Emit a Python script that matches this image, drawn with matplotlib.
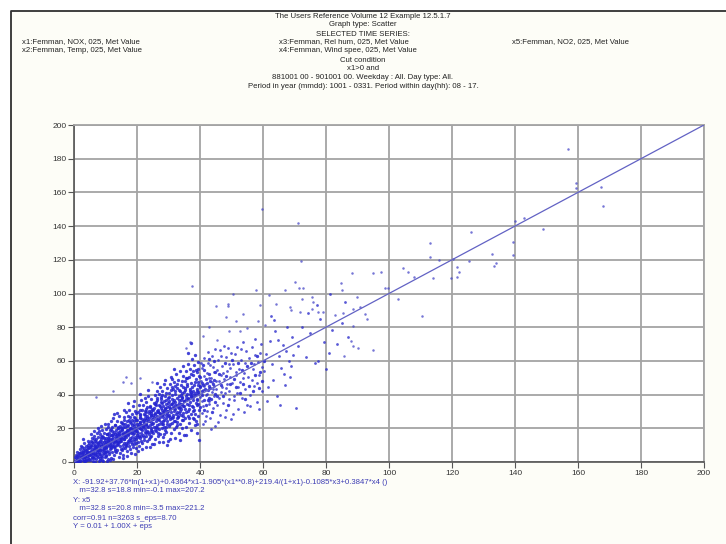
import numpy as np
import matplotlib
matplotlib.use('Agg')
from matplotlib import pyplot as plt
from matplotlib.lines import Line2D

plt.rcParams['font.family'] = ['Liberation Sans', 'DejaVu Sans']

# x = fitted NOX expression, y = measured NO2 (Femman, 025)
pts_0_10 = [(0.3,0.5),(0.5,2.1),(0.8,1.2),(1.1,3.4),(1.2,0.4),(1.4,2.6),(1.6,5.1),(1.7,1.5),(1.9,3.8),(2.0,0.8),
            (2.1,6.2),(2.3,2.9),(2.4,4.5),(2.6,1.1),(2.7,7.3),(2.8,3.3),(3.0,5.6),(3.1,2.0),(3.2,0.6),(3.3,8.1),
            (3.4,4.1),(3.5,6.8),(3.6,2.7),(3.7,1.4),(3.8,5.0),(3.9,9.2),(4.0,3.6),(4.1,7.5),(4.2,0.9),(4.3,4.8),
            (4.4,2.2),(4.5,6.1),(4.6,10.3),(4.7,3.9),(4.8,8.4),(4.9,1.7),(0.6,4.2),(1.0,6.0),(1.5,0.2),(2.2,9.6),
            (2.9,5.9),(3.3,11.4),(3.9,7.0),(4.4,12.2),(4.8,5.3),(0.9,0.1),(1.8,7.8),(2.5,3.1),(3.6,0.3),(4.1,5.4),
            (0.4,3.0),(1.3,4.4),(2.0,5.2),(2.6,8.9),(3.2,3.0),(4.5,9.1),(4.9,11.0),(3.0,13.5),
            (5.0,4.4),(5.1,8.7),(5.2,1.2),(5.3,12.5),(5.4,6.3),(5.5,10.1),(5.6,3.0),(5.7,14.0),(5.8,7.6),(5.9,0.8),
            (6.0,11.3),(6.1,5.1),(6.2,9.4),(6.3,2.4),(6.4,15.2),(6.5,7.0),(6.6,12.6),(6.7,4.2),(6.8,10.0),(6.9,1.6),
            (7.0,8.2),(7.1,13.8),(7.2,5.9),(7.3,17.1),(7.4,3.5),(7.5,11.1),(7.6,7.3),(7.7,14.9),(7.8,0.5),(7.9,9.6),
            (8.0,5.0),(8.1,12.3),(8.2,2.1),(8.3,16.4),(8.4,8.0),(8.5,10.7),(8.6,3.8),(8.7,13.6),(8.8,6.5),(8.9,19.0),
            (9.0,1.0),(9.1,9.9),(9.2,14.6),(9.3,4.6),(9.4,11.8),(9.5,7.4),(9.6,17.5),(9.7,2.9),(9.8,12.9),(9.9,6.1),
            (5.4,16.8),(6.2,18.3),(7.5,20.1),(8.6,21.4),(9.3,0.4),(6.8,0.2),(8.1,1.3),(9.7,22.8),(5.8,11.9),(7.1,9.0),
            (8.9,15.7),(9.4,8.6),(6.5,13.9),(7.9,18.6),(8.4,4.9)]

pts_10_20 = [(10.0,8.4),(10.1,14.2),(10.2,3.3),(10.3,19.5),(10.4,11.0),(10.5,6.7),(10.6,16.9),(10.7,1.8),(10.8,12.5),(10.9,22.3),
             (11.0,9.2),(11.1,15.6),(11.2,4.7),(11.3,18.8),(11.4,11.9),(11.5,7.5),(11.6,24.1),(11.7,13.4),(11.8,2.6),(11.9,16.2),
             (12.0,10.1),(12.1,20.7),(12.2,6.2),(12.3,14.8),(12.4,26.0),(12.5,12.0),(12.6,8.8),(12.7,17.6),(12.8,4.0),(12.9,22.0),
             (13.0,13.2),(13.1,9.7),(13.2,19.1),(13.3,15.5),(13.4,5.8),(13.5,24.4),(13.6,11.3),(13.7,17.0),(13.8,7.1),(13.9,20.3),
             (14.0,14.1),(14.1,10.5),(14.2,27.2),(14.3,16.4),(14.4,3.2),(14.5,21.6),(14.6,12.7),(14.7,18.2),(14.8,8.0),(14.9,23.5),
             (10.4,0.6),(11.3,1.0),(12.6,28.4),(13.8,29.1),(14.5,5.1),(10.8,20.6),(12.2,15.9),(13.4,12.2),(11.7,8.3),(14.1,19.9),
             (12.9,16.7),(10.2,11.8),(13.1,21.8),(14.7,14.3),(11.0,17.4),(12.4,1.9),
             (15.0,12.3),(15.1,18.7),(15.2,7.0),(15.3,23.2),(15.4,15.1),(15.5,9.8),(15.6,20.5),(15.7,4.4),(15.8,16.8),(15.9,26.7),
             (16.0,13.5),(16.1,21.0),(16.2,8.6),(16.3,17.9),(16.4,29.8),(16.5,14.6),(16.6,11.2),(16.7,24.3),(16.8,19.2),(16.9,6.3),
             (17.0,15.9),(17.1,27.5),(17.2,12.4),(17.3,21.8),(17.4,9.3),(17.5,18.0),(17.6,31.0),(17.7,14.2),(17.8,23.9),(17.9,7.7),
             (18.0,17.2),(18.1,20.4),(18.2,11.6),(18.3,28.6),(18.4,15.0),(18.5,25.2),(18.6,9.0),(18.7,19.7),(18.8,33.4),(18.9,13.8),
             (19.0,22.6),(19.1,17.5),(19.2,10.4),(19.3,26.1),(19.4,14.9),(19.5,30.3),(19.6,20.0),(19.7,8.2),(19.8,24.7),(19.9,16.3),
             (15.5,2.4),(16.8,3.5),(18.1,5.2),(19.4,4.8),(15.8,30.6),(17.3,34.9),(18.9,36.2),(16.2,22.4),(17.9,19.4),(19.0,12.7),
             (15.3,16.5),(16.6,17.3),(18.4,21.9),(19.7,18.5),(17.1,11.0),(15.9,13.9)]

pts_20_30 = [(20.0,18.4),(20.1,25.1),(20.2,12.0),(20.3,29.6),(20.4,21.3),(20.5,15.7),(20.6,33.8),(20.7,9.5),(20.8,23.6),(20.9,19.9),
             (21.0,27.8),(21.1,14.1),(21.2,36.5),(21.3,22.0),(21.4,17.4),(21.5,30.9),(21.6,11.3),(21.7,25.5),(21.8,20.6),(21.9,34.1),
             (22.0,16.2),(22.1,28.3),(22.2,23.0),(22.3,13.0),(22.4,38.0),(22.5,19.5),(22.6,26.4),(22.7,31.7),(22.8,15.3),(22.9,22.8),
             (23.0,35.5),(23.1,18.2),(23.2,27.1),(23.3,12.4),(23.4,24.6),(23.5,39.3),(23.6,20.9),(23.7,30.0),(23.8,16.6),(23.9,26.2),
             (24.0,33.0),(24.1,21.7),(24.2,14.6),(24.3,28.9),(24.4,24.0),(24.5,37.1),(24.6,19.0),(24.7,31.3),(24.8,10.6),(24.9,25.8),
             (20.3,6.4),(21.6,7.5),(22.9,8.8),(24.1,9.0),(21.1,40.2),(23.6,42.5),(20.9,30.7),(22.3,21.1),(23.4,17.6),(24.6,27.7),
             (21.8,24.3),(20.5,22.5),(22.7,25.0),(24.3,20.3),(23.0,29.4),(21.4,19.6),
             (25.0,23.1),(25.1,30.6),(25.2,17.0),(25.3,35.2),(25.4,26.8),(25.5,20.5),(25.6,39.7),(25.7,13.9),(25.8,29.0),(25.9,24.4),
             (26.0,33.6),(26.1,18.6),(26.2,42.3),(26.3,27.3),(26.4,21.9),(26.5,36.8),(26.6,15.4),(26.7,31.1),(26.8,25.6),(26.9,40.6),
             (27.0,19.8),(27.1,34.0),(27.2,28.4),(27.3,16.7),(27.4,44.5),(27.5,23.7),(27.6,31.9),(27.7,37.5),(27.8,20.0),(27.9,27.6),
             (28.0,42.0),(28.1,22.5),(28.2,33.1),(28.3,14.8),(28.4,29.9),(28.5,46.2),(28.6,25.2),(28.7,36.1),(28.8,19.1),(28.9,31.5),
             (29.0,39.0),(29.1,26.0),(29.2,17.9),(29.3,34.7),(29.4,28.8),(29.5,43.8),(29.6,22.8),(29.7,37.8),(29.8,12.6),(29.9,30.4),
             (25.5,10.5),(26.9,11.8),(28.1,12.0),(29.4,9.8),(26.4,47.1),(28.8,48.7),(25.8,34.4),(27.0,25.0),(28.4,24.1),(29.6,32.6),
             (26.6,29.6),(27.9,35.0),(29.1,21.0),(25.2,27.9),(28.6,30.2),(27.4,33.3)]

pts_30_40 = [(30.0,28.0),(30.1,36.4),(30.2,21.5),(30.3,41.2),(30.4,32.0),(30.5,25.3),(30.6,46.0),(30.7,17.2),(30.8,34.6),(30.9,29.4),
             (31.0,39.5),(31.1,23.0),(31.2,49.3),(31.3,32.7),(31.4,26.6),(31.5,43.4),(31.6,19.4),(31.7,37.0),(31.8,30.5),(31.9,47.6),
             (32.0,24.1),(32.1,40.3),(32.2,33.8),(32.3,20.7),(32.4,52.0),(32.5,28.5),(32.6,38.1),(32.7,44.0),(32.8,23.8),(32.9,32.4),
             (33.0,48.9),(33.1,26.9),(33.2,39.0),(33.3,17.5),(33.4,35.1),(33.5,54.1),(33.6,30.1),(33.7,42.2),(33.8,22.3),(33.9,36.7),
             (34.0,45.5),(34.1,31.2),(34.2,20.1),(34.3,40.9),(34.4,34.2),(34.5,50.8),(34.6,27.2),(34.7,44.3),(34.8,15.9),(34.9,36.0),
             (30.6,13.4),(32.2,14.5),(33.7,12.9),(34.5,56.9),(31.8,55.0),(30.9,50.5),(32.7,29.8),(33.9,27.8),(31.3,35.7),(34.2,38.3),
             (30.3,38.8),(33.2,31.8),(32.0,45.2),(34.7,24.8),
             (35.0,33.5),(35.1,42.8),(35.2,25.9),(35.3,48.3),(35.4,37.4),(35.5,29.6),(35.6,54.2),(35.7,20.8),(35.8,40.1),(35.9,34.7),
             (36.0,46.1),(36.1,27.4),(36.2,58.0),(36.3,38.0),(36.4,31.3),(36.5,50.6),(36.6,23.1),(36.7,43.5),(36.8,35.9),(36.9,55.4),
             (37.0,28.6),(37.1,47.0),(37.2,39.3),(37.3,18.7),(37.4,61.2),(37.5,33.2),(37.6,44.6),(37.7,51.7),(37.8,26.2),(37.9,38.6),
             (38.0,57.3),(38.1,31.0),(38.2,45.8),(38.3,21.7),(38.4,41.0),(38.5,63.4),(38.6,35.3),(38.7,49.2),(38.8,24.5),(38.9,42.4),
             (39.0,53.5),(39.1,36.5),(39.2,22.8),(39.3,47.7),(39.4,40.2),(39.5,59.6),(39.6,30.7),(39.7,13.0),(39.8,51.0),(39.9,44.9),
             (37.0,70.8),(36.3,64.5),(35.6,16.3),(38.9,17.4),(36.8,41.9),(39.2,33.6),(37.8,36.8),(35.3,44.2),(38.4,28.3)]

# densest part of the cloud, along the diagonal
pts_core = [(3.4,3.0),(4.2,5.9),(5.1,6.2),(5.9,4.8),(6.6,8.4),(7.2,7.1),(7.9,6.0),(8.5,9.3),(9.1,7.8),(9.8,10.4),
            (10.3,9.0),(10.9,12.8),(11.5,10.3),(12.0,13.5),(12.7,11.1),(13.3,14.0),(13.9,12.6),(14.4,15.8),(15.0,14.4),(15.6,17.1),
            (16.1,15.2),(16.7,18.6),(17.2,16.4),(17.8,19.9),(18.3,18.0),(18.9,21.2),(19.4,19.1),(20.0,22.3),(20.6,20.1),(21.1,23.6),
            (21.7,21.8),(22.2,24.9),(22.8,22.5),(23.3,26.0),(23.9,24.1),(24.4,27.4),(25.0,25.5),(25.6,28.3),(26.1,26.2),(26.7,29.5),
            (27.2,27.0),(27.8,30.8),(28.3,28.2),(28.9,32.0),(29.4,30.0),(30.0,33.1),(30.6,31.2),(31.1,34.4),(31.7,32.3),(32.2,35.6),
            (32.8,33.6),(33.3,36.9),(33.9,34.5),(34.4,38.0),(35.0,36.2),(35.6,39.3),(36.1,37.4),(36.7,40.6),(37.2,38.5),(37.8,42.1),
            (38.3,39.9),(38.9,43.2),(39.4,41.6),(40.0,44.4),(40.6,42.2),(41.1,45.6),(41.7,43.5),(42.2,47.0),(42.8,45.4),(43.3,48.3),
            (6.0,2.9),(7.6,3.2),(9.5,5.3),(11.1,6.0),(12.9,7.7),(14.6,9.4),(16.4,10.2),(18.0,12.9),(19.6,13.6),(21.3,15.5),
            (22.9,17.0),(24.5,17.9),(26.2,20.3),(27.8,22.8),(29.5,24.5),(31.2,26.0),(32.9,27.1),(34.6,29.3),(36.2,30.2),(37.9,32.9),
            (39.5,34.4),(41.3,36.9),(43.0,38.1),(44.7,40.3),
            (5.3,9.7),(6.9,12.0),(8.7,14.9),(10.4,16.6),(12.2,18.4),(13.9,20.9),(15.7,22.8),(17.4,25.1),(19.1,27.0),(20.8,28.4),
            (22.5,30.2),(24.2,32.5),(25.9,35.9),(27.6,38.7),(29.2,40.7),(30.9,42.5),(32.6,46.3),(34.3,47.9),(36.0,50.1),(37.7,53.9),
            (39.4,55.3),(41.0,57.8),(42.7,61.0),(44.4,59.7)]

# more of the main band between x = 5 and 60
pts_band = [(5.5,5.0),(6.3,7.8),(7.0,4.6),(7.7,10.5),(8.3,7.0),(9.0,12.0),(9.6,9.2),(10.1,6.0),(10.7,14.5),(11.3,11.3),
            (11.9,8.9),(12.5,16.4),(13.1,12.7),(13.7,9.9),(14.3,18.1),(14.9,13.4),(5.8,2.2),(6.7,5.6),(7.3,9.4),(8.0,11.7),
            (8.8,3.1),(9.4,14.0),(10.0,4.2),(10.6,10.0),(11.2,13.9),(11.8,19.6),(12.4,9.6),(13.0,6.8),(13.6,16.0),(14.2,11.8),
            (14.8,20.2),
            (15.2,19.4),(15.8,11.0),(16.3,16.0),(16.9,21.5),(17.5,13.3),(18.1,23.0),(18.6,16.8),(19.2,24.4),(19.8,11.4),(20.4,17.2),
            (20.9,25.9),(21.5,19.0),(22.1,14.8),(22.6,27.6),(23.2,21.4),(23.8,29.0),(24.3,15.4),(24.9,22.6),(15.4,8.3),(16.0,24.8),
            (16.6,9.4),(17.2,19.0),(17.8,27.0),(18.4,10.6),(19.0,18.7),(19.6,29.2),(20.2,14.6),(20.8,26.6),(21.4,12.3),(22.0,21.6),
            (22.6,18.0),(23.2,32.8),(23.8,13.8),(24.4,30.3),(24.9,18.6),
            (25.3,32.0),(25.9,21.0),(26.4,30.0),(27.0,22.3),(27.6,35.6),(28.1,26.8),(28.7,20.6),(29.3,36.5),(29.8,27.4),(30.4,22.8),
            (31.0,37.6),(31.5,28.0),(32.1,31.6),(32.7,25.9),(33.2,42.6),(33.8,32.9),(34.4,25.0),(34.9,41.6),(25.6,18.9),(26.2,37.9),
            (26.8,17.5),(27.4,29.1),(28.0,39.8),(28.6,16.4),(29.2,28.0),(29.8,35.2),(30.4,27.0),(31.0,44.8),(31.6,24.2),(32.2,42.0),
            (32.8,21.9),(33.4,28.8),(34.0,39.7),(34.6,33.0),
            (35.3,31.6),(35.9,45.3),(36.5,33.8),(37.1,41.3),(37.7,30.4),(38.3,47.3),(38.9,37.1),(39.5,27.3),(40.1,50.2),(40.7,39.5),
            (41.3,30.6),(41.9,49.0),(42.5,36.8),(43.1,43.7),(43.7,29.4),(44.3,48.6),(44.9,35.9),(35.7,49.6),(36.4,26.0),(37.0,52.5),
            (37.6,40.5),(38.2,25.6),(38.8,54.7),(39.4,45.7),(40.0,32.6),(40.6,46.7),(41.2,54.4),(41.8,33.9),(42.4,42.9),(43.0,52.2),
            (43.6,37.6),(44.2,46.2),(44.8,53.6),
            (45.4,39.2),(46.0,52.4),(46.6,45.8),(47.2,39.0),(47.8,58.6),(48.4,50.8),(49.0,33.6),(49.6,46.2),(50.2,60.4),(50.8,49.2),
            (51.4,44.7),(52.0,58.9),(52.6,40.9),(53.2,54.6),(53.8,46.1),(54.4,37.2),(55.0,56.7),(55.6,45.4),(56.2,58.9),(56.8,42.0),
            (57.4,51.7),(58.0,62.8),(58.6,44.2),(59.2,53.6),(59.8,48.0),(60.2,60.1)]

pts_40_60 = [(40.1,38.5),(40.3,48.0),(40.5,28.9),(40.7,55.6),(40.9,42.7),(41.1,33.0),(41.3,61.5),(41.5,24.6),(41.7,46.4),(41.9,39.8),
             (42.1,52.9),(42.3,30.4),(42.5,65.1),(42.7,44.1),(42.9,36.3),(43.1,57.8),(43.3,26.0),(43.5,49.6),(43.7,41.3),(43.9,62.7),
             (44.1,32.2),(44.3,53.4),(44.5,45.0),(44.7,21.2),(44.9,67.0),(40.6,36.1),(41.4,51.2),(42.2,40.6),(43.0,34.5),(43.8,47.5),
             (44.6,38.9),(40.2,59.0),(41.8,27.1),(42.6,58.7),(43.4,19.6),(44.2,43.2),(41.2,44.9),(42.8,50.1),(44.0,56.2),(40.8,22.4),
             (45.1,43.6),(45.3,54.5),(45.5,33.7),(45.7,60.8),(45.9,48.2),(46.1,37.9),(46.3,66.3),(46.5,28.1),(46.7,51.6),(46.9,44.8),
             (47.1,57.1),(47.3,35.0),(47.5,69.0),(47.7,49.0),(47.9,40.7),(48.1,62.1),(48.3,30.8),(48.5,54.0),(48.7,46.5),(48.9,67.9),
             (49.1,37.2),(49.3,58.3),(49.5,50.3),(49.7,25.4),(49.9,64.4),(45.6,23.5),(46.6,41.5),(47.4,53.0),(48.4,44.0),(49.2,42.0),
             (45.2,47.8),(46.8,63.2),(48.0,26.9),(49.6,55.8),
             (50.1,46.9),(50.4,57.9),(50.7,36.8),(51.0,63.9),(51.3,51.4),(51.6,41.1),(51.9,68.5),(52.2,31.6),(52.5,55.2),(52.8,47.4),
             (53.1,60.5),(53.4,38.2),(53.7,71.3),(54.0,52.6),(54.3,43.3),(54.6,65.7),(54.9,34.0),(50.5,28.5),(52.0,44.6),(53.5,49.9),
             (54.2,58.8),(51.5,53.7),(52.9,66.8),(50.9,39.4),(53.9,29.7),
             (55.2,50.7),(55.6,61.6),(56.0,39.9),(56.4,68.2),(56.8,55.0),(57.2,45.3),(57.6,73.0),(58.0,35.6),(58.4,59.4),(58.8,51.9),
             (59.2,64.6),(59.6,42.2),(55.9,33.1),(57.0,58.1),(58.2,47.0),(59.4,70.1),(56.6,48.6),(58.6,31.5),(59.8,56.5),(57.4,63.3)]

pts_60_90 = [(60.3,53.8),(60.9,64.0),(61.5,44.7),(62.1,71.8),(62.7,58.4),(63.3,48.8),(63.9,77.6),(64.5,39.0),(65.1,62.9),(65.7,55.5),
             (66.3,69.2),(66.9,45.9),(67.5,80.4),(68.1,60.2),(68.7,50.4),(69.3,74.3),(61.2,36.4),(63.6,84.0),(65.4,33.9),(67.2,66.0),
             (68.9,57.0),(62.4,86.5),(64.8,72.4),(66.6,52.0),(69.6,63.5),(70.4,31.9),
             (71.0,68.7),(72.5,80.1),(73.8,62.3),(75.0,76.5),(76.5,58.9),(78.0,84.7),(79.3,71.0),(80.8,64.4),(82.0,78.2),(83.5,69.8),
             (85.2,82.6),(87.0,74.0),(74.2,88.3),(77.0,93.0),(81.2,99.5),(86.0,94.7),(77.5,60.2),(79.9,55.1)]

pts_sparse = [(12.5,42.0),(15.7,47.7),(16.4,50.6),(18.0,47.0),(21.0,50.0),(24.7,47.5),(7.0,38.6),
              (37.4,104.5),(48.8,93.6),(50.4,99.7),(51.4,83.9),(49.3,77.7),(48.3,86.2),(58.5,83.9),(60.6,81.3),
              (52.7,77.9),(36.8,71.4),(35.6,67.5),(41.0,74.8),(45.3,72.4),(43.0,80.1),(55.0,79.5),(62.0,99.0),(53.8,88.0),
              (45.0,92.6),(49.0,92.6),(59.0,93.0),(64.0,94.0),(59.6,150.0),(71.0,142.0),(72.0,119.0),
              (70.0,107.0),(71.4,103.0),(72.8,103.0),(67.0,102.0),(57.8,102.0),(72.3,96.5),(75.4,97.7),(76.0,95.0),
              (68.6,92.0),(69.0,90.0),(71.7,89.0),(75.4,91.0),(77.6,89.0),(79.0,88.8),(82.9,87.0),(85.3,88.6),
              (88.2,112.0),(84.8,106.0),(85.0,102.0),(89.7,98.0),(90.8,92.0),(88.5,91.0),(92.4,88.0),(93.0,85.0),
              (88.7,81.0),(88.0,72.0),(88.5,69.0),(90.3,67.5),(95.0,66.5),(85.8,63.0),(95.0,112.0),(97.4,113.0),
              (98.7,103.4),(99.8,103.4),(103.0,96.5),(104.3,115.0),(106.0,113.0),(108.0,110.0),(114.0,109.0),
              (110.4,86.8),(113.0,129.8),(113.0,121.5),(116.0,120.0),(120.3,120.6),(121.5,116.0),(122.3,112.6),
              (121.7,110.0),(119.6,109.0),(125.5,119.3),(126.0,136.3),(132.8,123.4),(133.9,118.0),(133.3,116.5),
              (139.3,122.8),(139.5,130.4),(140.0,143.0),(142.9,145.0),(149.0,138.0),(156.7,186.0),(159.4,165.4),
              (159.4,162.4),(167.2,163.4),(167.8,152.0)]

# regression Y = a + b*X
fit_a = 0.01
fit_b = 1.00
ticks = np.arange(0, 201, 20)

header = ["The Users Reference Volume 12 Example 12.5.1.7",
          "Graph type: Scatter",
          "SELECTED TIME SERIES:"]
series_left = ["x1:Femman, NOX, 025, Met Value", "x2:Femman, Temp, 025, Met Value"]
series_mid = ["x3:Femman, Rel hum, 025, Met Value", "x4:Femman, Wind spee, 025, Met Value"]
series_right = ["x5:Femman, NO2, 025, Met Value"]
cut_lines = ["Cut condition",
             "x1>0 and",
             "881001 00 - 901001 00. Weekday : All. Day type: All.",
             "Period in year (mmdd): 1001 - 0331. Period within day(hh): 08 - 17."]
stats_lines = ["X: -91.92+37.76*ln(1+x1)+0.4364*x1-1.905*(x1**0.8)+219.4/(1+x1)-0.1085*x3+0.3847*x4 ()",
               "   m=32.8 s=18.8 min=-0.1 max=207.2",
               "Y: x5",
               "   m=32.8 s=20.8 min=-3.5 max=221.2",
               "corr=0.91 n=3263 s_eps=8.70",
               "Y = 0.01 + 1.00X + eps"]

W, H = 726, 544
fig = plt.figure(figsize=(W/100, H/100), dpi=100, facecolor='white')

# cream panel with a dark frame on the left and top
fig.patches.append(plt.Rectangle((10.5/W, 0), 1, 1 - 11/H, transform=fig.transFigure,
                                 facecolor='#fdfdf7', edgecolor='none', zorder=-10))
fig.add_artist(Line2D([10.5/W, 10.5/W, 1], [0, 1 - 11/H, 1 - 11/H], transform=fig.transFigure,
                      color='#303030', linewidth=1.3))

ax = fig.add_axes([74/W, 1 - 462/H, 630/W, 337/H])
ax.set_facecolor('white')

dense = np.array(pts_0_10 + pts_10_20 + pts_20_30 + pts_30_40 + pts_core + pts_band)
outer = np.array(pts_40_60 + pts_60_90)
sparse = np.array(pts_sparse)
ax.plot(dense[:, 0], dense[:, 1], 'o', color='#2424d0', markersize=2.4, markeredgewidth=0,
        alpha=0.85, zorder=3)
ax.plot(outer[:, 0], outer[:, 1], 'o', color='#3030cc', markersize=2.0, markeredgewidth=0,
        alpha=0.8, zorder=3)
ax.plot(sparse[:, 0], sparse[:, 1], 'o', color='#4848c8', markersize=1.8, markeredgewidth=0,
        alpha=0.75, zorder=3)

# fitted line
xf = np.array([0, 200])
ax.plot(xf, fit_a + fit_b*xf, color='#6262c4', linewidth=0.9, zorder=4)

ax.set_xlim(0, 200)
ax.set_ylim(0, 200)
ax.set_xticks(ticks)
ax.set_yticks(ticks)
ax.grid(color='#a4a4a4', linestyle='-', linewidth=1.3, zorder=0)
ax.set_axisbelow(True)
for s in ['top', 'right']:
    ax.spines[s].set_color('#a4a4a4')
    ax.spines[s].set_linewidth(1.3)
for s in ['left', 'bottom']:
    ax.spines[s].set_color('#555555')
    ax.spines[s].set_linewidth(1.2)
ax.tick_params(axis='both', labelsize=6.0, length=4, width=0.8, color='#555555',
               labelcolor='#333333', pad=1.5)

# header text
tkw = dict(fontsize=5.6, color='#222222', transform=fig.transFigure, va='center')
for i, t in enumerate(header):
    fig.text(0.5, 1 - (16 + 9*i)/H, t, ha='center', **tkw)
for i, t in enumerate(series_left):
    fig.text(22/W, 1 - (42 + 9*i)/H, t, ha='left', **tkw)
for i, t in enumerate(series_mid):
    fig.text(279/W, 1 - (42 + 9*i)/H, t, ha='left', **tkw)
for i, t in enumerate(series_right):
    fig.text(512/W, 1 - (42 + 9*i)/H, t, ha='left', **tkw)
for i, t in enumerate(cut_lines):
    fig.text(0.5, 1 - (60 + 9*i)/H, t, ha='center', **tkw)

# statistics below the plot
skw = dict(fontsize=5.6, color='#3c3cb4', transform=fig.transFigure, va='center', ha='left')
for i, t in enumerate(stats_lines):
    fig.text(73/W, 1 - (482 + 9.0*i)/H, t, **skw)

fig.savefig('out.png', dpi=100)
